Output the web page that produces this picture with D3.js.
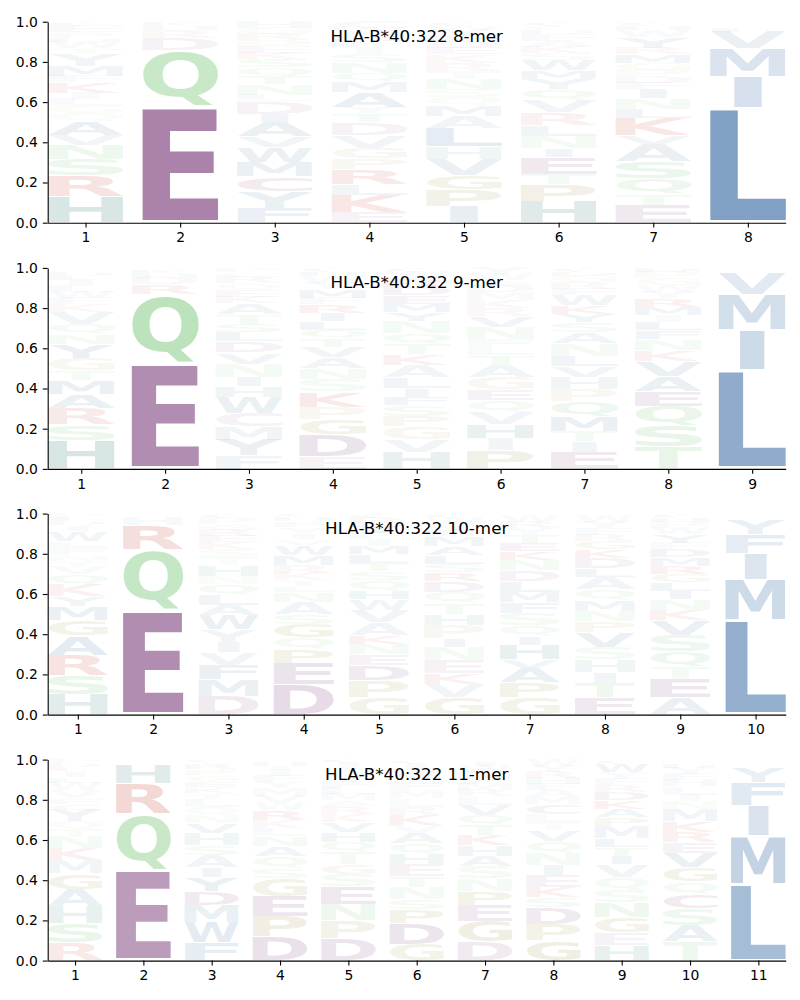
<!DOCTYPE html>
<html><head><meta charset="utf-8">
<script src="https://cdn.jsdelivr.net/npm/d3@7"></script>
<style>body{margin:0;background:#fff}</style>
</head><body><svg id="c" width="800" height="1000" xmlns="http://www.w3.org/2000/svg"></svg>
<script>
// ---------------- data (letter, frequency), listed bottom -> top ----------------
const titles = ["HLA-B*40:322 8-mer","HLA-B*40:322 9-mer","HLA-B*40:322 10-mer","HLA-B*40:322 11-mer"];
const yTicks = [0,0.2,0.4,0.6,0.8,1.0];

const logo8 = [
 [["H",.13],["R",.10],["S",.08],["N",.07],["V",.05],["A",.07],["Q",.04],["G",.04],["L",.03],["I",.03],["K",.05],["F",.03],["M",.05],["Y",.06],["T",.03],["W",.03],["D",.02],["P",.03],["E",.03],["C",.02]],
 [["E",.58],["Q",.28],["D",.06],["R",.04],["H",.02],["K",.02]],
 [["F",.07],["Y",.08],["C",.07],["M",.07],["W",.07],["V",.05],["A",.07],["I",.04],["D",.06],["L",.03],["N",.05],["T",.04],["Q",.04],["S",.04],["K",.03],["E",.03],["P",.03],["R",.03],["G",.03],["H",.03]],
 [["E",.05],["K",.08],["L",.05],["R",.07],["P",.05],["G",.05],["V",.06],["D",.06],["T",.04],["Y",.03],["A",.07],["M",.05],["Q",.04],["N",.05],["S",.04],["I",.03],["F",.03],["H",.03],["W",.03],["C",.03]],
 [["I",.08],["P",.08],["G",.07],["V",.08],["H",.06],["L",.09],["A",.06],["M",.05],["Q",.04],["S",.04],["N",.05],["T",.04],["R",.04],["K",.04],["E",.03],["D",.03],["F",.03],["Y",.03],["W",.02],["C",.02]],
 [["H",.10],["P",.08],["T",.05],["E",.08],["I",.04],["N",.06],["L",.05],["R",.06],["V",.06],["Q",.05],["Y",.05],["M",.04],["W",.05],["S",.03],["K",.03],["A",.03],["F",.03],["D",.02],["G",.02],["C",.02]],
 [["E",.08],["T",.05],["Q",.07],["S",.08],["A",.08],["V",.04],["K",.08],["L",.04],["N",.05],["I",.04],["F",.03],["D",.03],["P",.03],["G",.03],["M",.04],["R",.03],["Y",.05],["W",.03],["H",.02],["C",.02]],
 [["L",.57],["I",.155],["M",.14],["V",.085],["F",.02],["Y",.015],["A",.01],["W",.005]]
];
const logo9 = [
 [["H",.14],["S",.08],["R",.08],["A",.07],["M",.07],["T",.05],["G",.06],["Y",.07],["N",.05],["Q",.05],["V",.06],["K",.04],["F",.03],["W",.03],["L",.03],["I",.03],["E",.02],["D",.02],["P",.01],["C",.01]],
 [["E",.525],["Q",.345],["R",.05],["D",.03],["H",.02],["K",.02],["S",.01]],
 [["F",.06],["Y",.07],["M",.06],["C",.06],["W",.07],["H",.05],["I",.04],["N",.06],["V",.05],["D",.05],["L",.04],["S",.04],["T",.04],["A",.05],["K",.03],["E",.03],["Q",.03],["R",.03],["G",.02],["P",.02]],
 [["E",.06],["D",.10],["G",.07],["P",.06],["K",.07],["S",.06],["N",.05],["A",.05],["V",.05],["T",.04],["Q",.04],["L",.04],["I",.04],["R",.04],["F",.03],["M",.04],["Y",.03],["W",.03],["H",.02],["C",.02]],
 [["H",.08],["V",.06],["G",.06],["P",.05],["S",.05],["F",.04],["I",.04],["L",.05],["A",.06],["K",.05],["T",.05],["Q",.05],["N",.06],["Y",.04],["M",.04],["E",.04],["D",.04],["R",.04],["W",.03],["C",.02]],
 [["P",.09],["I",.06],["H",.07],["V",.06],["Q",.06],["E",.05],["G",.06],["A",.06],["T",.05],["L",.04],["F",.04],["N",.06],["V",.05],["R",.04],["K",.04],["M",.04],["D",.03],["S",.03],["W",.03],["Y",.03]],
 [["E",.08],["I",.05],["T",.05],["M",.07],["Q",.07],["P",.06],["H",.06],["V",.05],["L",.05],["N",.06],["A",.05],["S",.05],["Y",.04],["K",.04],["W",.05],["F",.03],["R",.03],["G",.03],["D",.02],["C",.02]],
 [["T",.10],["S",.10],["Q",.09],["E",.07],["A",.07],["V",.07],["K",.05],["N",.05],["F",.04],["L",.04],["I",.03],["M",.04],["R",.04],["Y",.03],["W",.03],["G",.03],["P",.03],["D",.02]],
 [["L",.49],["I",.20],["M",.175],["V",.11],["F",.01],["Y",.01],["A",.005]]
];
const logo10 = [
 [["H",.10],["S",.10],["R",.10],["A",.10],["G",.08],["M",.07],["Y",.05],["K",.06],["Q",.05],["V",.04],["T",.03],["N",.03],["F",.04],["L",.03],["W",.05],["I",.03],["D",.02],["E",.02],["P",.02]],
 [["E",.52],["Q",.30],["R",.12],["H",.04],["D",.01],["K",.01]],
 [["D",.09],["M",.08],["F",.07],["V",.06],["I",.05],["Y",.06],["W",.07],["A",.05],["L",.05],["Q",.05],["N",.04],["H",.05],["T",.04],["S",.04],["K",.03],["E",.03],["R",.03],["G",.03],["P",.03],["C",.02]],
 [["D",.15],["E",.11],["P",.07],["Q",.06],["G",.07],["S",.05],["A",.06],["N",.05],["L",.03],["T",.03],["K",.04],["R",.04],["M",.05],["W",.05],["V",.03],["I",.03],["Y",.03],["F",.03],["H",.02],["C",.02]],
 [["G",.08],["P",.08],["D",.07],["E",.05],["N",.05],["K",.04],["A",.06],["V",.06],["W",.05],["H",.04],["Q",.05],["S",.04],["T",.04],["L",.04],["M",.04],["I",.03],["F",.03],["Y",.04],["R",.03],["C",.02]],
 [["G",.08],["V",.06],["K",.05],["E",.06],["N",.06],["I",.04],["P",.06],["H",.05],["T",.05],["Q",.05],["D",.05],["R",.04],["S",.04],["L",.04],["A",.04],["M",.04],["F",.03],["Y",.03],["W",.03],["C",.02]],
 [["G",.08],["P",.07],["A",.07],["V",.04],["H",.07],["I",.04],["Q",.05],["S",.06],["F",.05],["M",.05],["L",.05],["D",.05],["N",.05],["K",.04],["E",.04],["T",.04],["Y",.03],["R",.03],["W",.03],["C",.01]],
 [["E",.08],["T",.07],["I",.05],["H",.06],["S",.06],["V",.07],["P",.05],["N",.05],["M",.05],["Q",.05],["A",.06],["L",.04],["D",.05],["K",.04],["G",.04],["R",.03],["F",.03],["Y",.03],["W",.03],["C",.01]],
 [["A",.08],["E",.09],["T",.06],["Q",.07],["S",.08],["V",.07],["K",.05],["N",.05],["I",.04],["L",.04],["G",.04],["R",.04],["M",.04],["D",.04],["F",.03],["Y",.04],["W",.03],["P",.03],["H",.02],["C",.02]],
 [["L",.465],["M",.20],["I",.13],["F",.095],["Y",.075],["W",.01],["V",.01],["A",.005]]
];
const logo11 = [
 [["R",.09],["S",.10],["H",.09],["A",.09],["G",.08],["M",.07],["K",.06],["N",.06],["T",.04],["Q",.04],["Y",.06],["C",.03],["F",.03],["V",.04],["W",.04],["L",.03],["I",.03],["E",.02],["D",.02],["P",.02]],
 [["E",.45],["Q",.28],["R",.15],["H",.095],["D",.015],["K",.01]],
 [["F",.09],["W",.10],["M",.09],["D",.07],["Y",.07],["I",.05],["A",.06],["S",.05],["H",.06],["V",.05],["N",.04],["Q",.04],["L",.04],["T",.03],["K",.03],["E",.03],["G",.03],["P",.03],["R",.03],["C",.02]],
 [["D",.12],["P",.10],["E",.10],["G",.09],["S",.05],["Q",.06],["A",.05],["N",.05],["L",.04],["K",.04],["R",.05],["W",.04],["V",.03],["M",.04],["Y",.03],["F",.03],["I",.03],["T",.02],["H",.02],["C",.01]],
 [["D",.11],["P",.09],["N",.08],["E",.09],["S",.06],["G",.05],["T",.06],["Q",.05],["H",.05],["V",.05],["K",.04],["R",.04],["A",.03],["M",.03],["L",.03],["F",.03],["Y",.03],["W",.03],["I",.03],["C",.02]],
 [["G",.08],["D",.10],["P",.07],["S",.05],["N",.06],["T",.05],["E",.06],["H",.05],["Q",.05],["A",.05],["V",.04],["K",.05],["R",.04],["L",.04],["M",.04],["F",.04],["Y",.03],["W",.03],["I",.03],["C",.02]],
 [["D",.09],["G",.10],["E",.08],["P",.07],["N",.06],["S",.06],["A",.05],["H",.05],["K",.05],["T",.05],["Q",.05],["V",.05],["L",.04],["R",.03],["M",.03],["F",.03],["Y",.03],["W",.03],["I",.02],["C",.01]],
 [["G",.10],["P",.08],["D",.08],["S",.05],["K",.05],["E",.06],["I",.05],["N",.06],["Q",.06],["V",.05],["T",.04],["L",.04],["C",.05],["M",.04],["A",.03],["F",.03],["H",.03],["R",.03],["Y",.03],["W",.03]],
 [["H",.07],["E",.06],["G",.07],["N",.07],["S",.06],["Q",.06],["V",.06],["I",.04],["T",.04],["L",.04],["M",.06],["P",.04],["A",.04],["K",.04],["D",.04],["R",.03],["F",.03],["Y",.03],["W",.04],["C",.02]],
 [["T",.09],["A",.08],["S",.08],["C",.07],["Q",.06],["G",.07],["V",.07],["E",.05],["R",.05],["K",.05],["M",.06],["N",.04],["I",.03],["L",.04],["H",.03],["F",.03],["Y",.03],["D",.02],["W",.01],["P",.01]],
 [["L",.38],["M",.24],["I",.15],["F",.115],["Y",.075],["W",.01],["V",.01],["A",.01],["C",.01]]
];
const logos = [logo8, logo9, logo10, logo11];

// ---------------- styles ----------------
const groupColor = {
  hydrophobic: "#2c619d", polar: "#52b752", basic: "#be2814",
  acidic: "#743374", his: "#146464", small: "#918228", cys: "#8c326e"
};
const letterGroup = {A:"hydrophobic",V:"hydrophobic",L:"hydrophobic",I:"hydrophobic",M:"hydrophobic",F:"hydrophobic",W:"hydrophobic",Y:"hydrophobic",
  Q:"polar",N:"polar",S:"polar",T:"polar",R:"basic",K:"basic",D:"acidic",E:"acidic",H:"his",G:"small",P:"small",C:"cys"};

const svg = d3.select("#c");
const FONT = '"DejaVu Sans"';
const ctx = document.createElement("canvas").getContext("2d");
ctx.font = `bold 100px ${FONT}`;
const metricCache = {};
function glyph(ch){
  if(!metricCache[ch]){
    const t = ctx.measureText(ch);
    metricCache[ch] = {l:t.actualBoundingBoxLeft, r:t.actualBoundingBoxRight, a:t.actualBoundingBoxAscent, d:t.actualBoundingBoxDescent};
  }
  return metricCache[ch];
}
const refGlyph = glyph("E");
const refInkW = refGlyph.l + refGlyph.r;

const X0 = 47.7, X1 = 785.7, PH = 201;
const tops = [21.7, 267.9, 513.6, 759.6];

logos.forEach((cols, i) => {
  const n = cols.length;
  const top = tops[i];
  const x = d3.scaleLinear().domain([0.6, n + 0.4]).range([X0, X1]);
  const y = d3.scaleLinear().domain([0, 1]).range([top + PH, top]);
  const g = svg.append("g");

  cols.forEach((col, j) => {
    const total = d3.sum(col, d => d[1]);
    let cum = 0;
    col.forEach(([ch, v]) => {
      const p = v / total;
      const lo = cum, hi = cum + p;
      cum = hi;
      const pad = 0.025 * p;
      const yb = y(lo + pad), yt = y(hi - pad);
      const xl = x(j + 1 - 0.4), xr = x(j + 1 + 0.4);
      const w = xr - xl;
      const m = glyph(ch);
      const inkW = m.l + m.r;
      const sx = Math.min(w / inkW, w / refInkW);
      const off = (w - inkW * sx) / 2;
      const sy = (yb - yt) / (m.a + m.d);
      g.append("text")
        .text(ch)
        .attr("font-family", FONT).attr("font-weight", "bold").attr("font-size", "100px")
        .attr("fill", groupColor[letterGroup[ch]])
        .attr("fill-opacity", Math.pow(p, 0.9))
        .attr("transform", `translate(${xl + off},${yb}) scale(${sx},${sy}) translate(${m.l},${-m.d})`);
    });
  });

  // axes
  const ax = svg.append("g").attr("transform", `translate(${X0},0)`)
    .call(d3.axisLeft(y).tickValues(yTicks).tickFormat(d3.format(".1f")).tickSize(4.9).tickPadding(4.9).tickSizeOuter(0));
  const bx = svg.append("g").attr("transform", `translate(0,${top + PH})`)
    .call(d3.axisBottom(x).tickValues(d3.range(1, n + 1)).tickFormat(d3.format("d")).tickSize(4.9).tickPadding(4.9).tickSizeOuter(0));
  [ax, bx].forEach(a => {
    a.attr("font-family", FONT).attr("font-size", "13.9px");
    a.selectAll("text").attr("fill", "#000");
    a.selectAll("line").attr("stroke", "#000").attr("stroke-width", 1.1);
    a.select(".domain").attr("stroke", "#000").attr("stroke-width", 1.1);
  });

  svg.append("text")
    .attr("x", (X0 + X1) / 2).attr("y", top + 20.5)
    .attr("text-anchor", "middle")
    .attr("font-family", FONT).attr("font-size", "16.7px").attr("fill", "#000")
    .text(titles[i]);
});
</script></body></html>
